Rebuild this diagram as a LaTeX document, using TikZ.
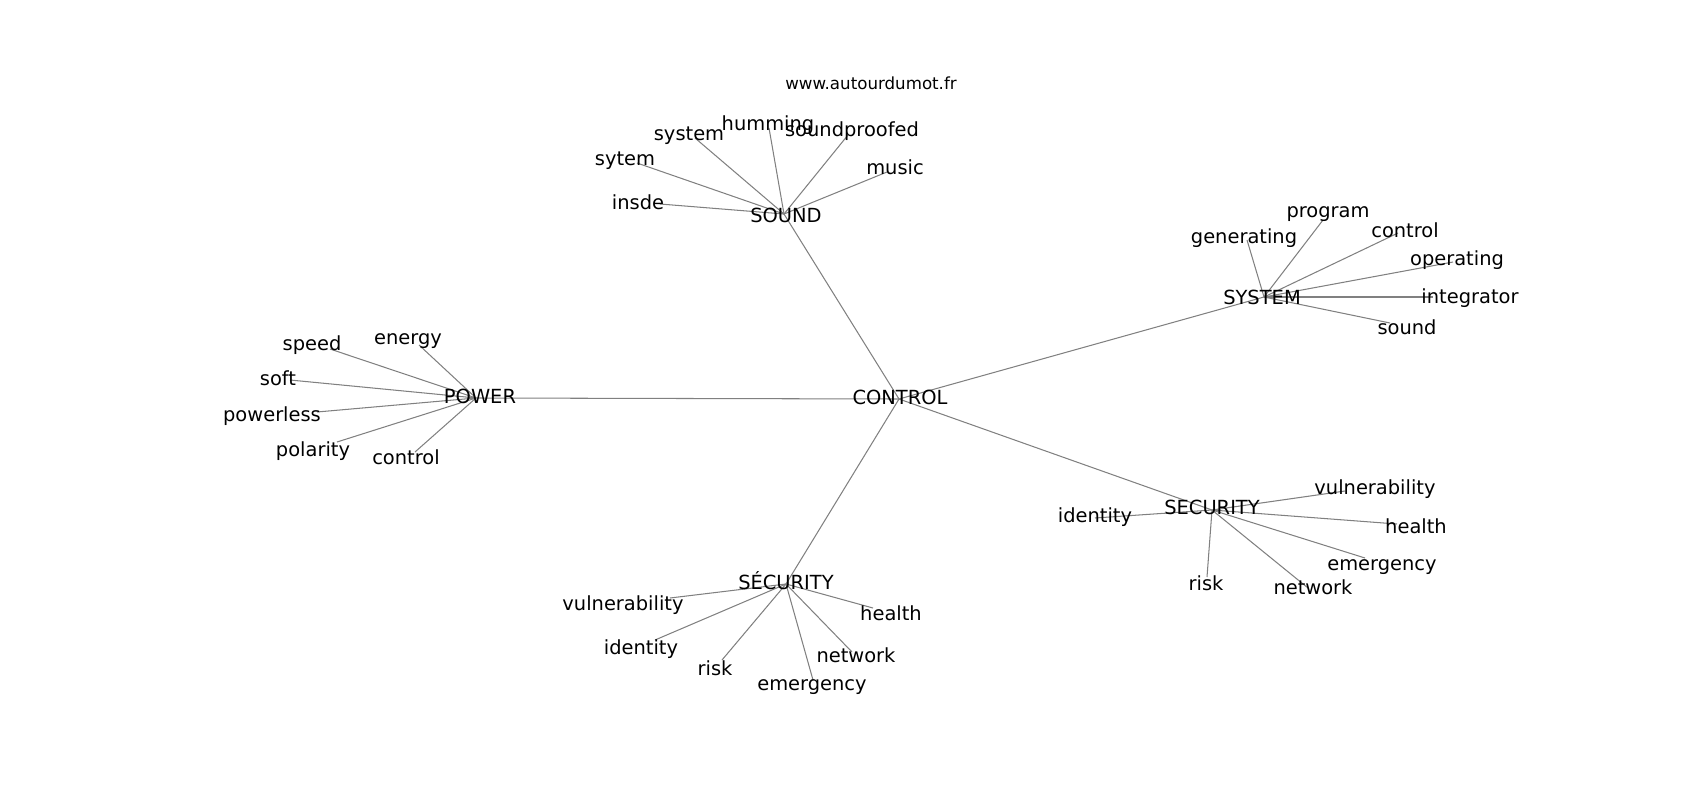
\documentclass[tikz,border=0pt]{standalone}
\usepackage{fontspec}
\setmainfont{DejaVu Sans}
\usepackage{tikz}
\tikzstyle{term}=[inner sep=0pt, text height=0.75em, text depth=0pt, yshift=-1.6pt, font=\fontsize{14}{16}\selectfont]
\tikzstyle{site}=[inner sep=0pt, text height=0.75em, text depth=0pt, yshift=-1.2pt, font=\fontsize{12}{14}\selectfont]
\tikzstyle{link}=[draw=gray, line width=0.75pt]
\begin{document}
\begin{tikzpicture}[x=0.72pt, y=-0.72pt]
\useasboundingbox (0,0) rectangle (1700,800);
\node[site] (url) at (871,83) {www.autourdumot.fr};
% hubs
\coordinate (control) at (899,399);
\coordinate (sound) at (784,214);
\coordinate (power) at (476,398);
\coordinate (system) at (1264,297);
\coordinate (security) at (1212,510);
\coordinate (securite) at (786,584);
\foreach \h in {sound,power,system,security,securite}
 \draw[link] (control) -- (\h);
% sound
\foreach \n/\txt/\lx/\ly/\ex/\ey in {so-humming/humming/768/123/769/128, so-soundproofed/soundproofed/852/129/848/135,
 so-system/system/689/133/695/138, so-sytem/sytem/625/158/637/163, so-music/music/895/167/887/172, so-insde/insde/638/202/660/204} {
 \coordinate (\n-end) at (\ex,\ey);
 \draw[link] (sound) -- (\n-end);
 \node[term] (\n) at (\lx,\ly) {\txt};
}
% power
\foreach \n/\txt/\lx/\ly/\ex/\ey in {pw-speed/speed/312/343/330/349, pw-energy/energy/408/337/419/345, pw-soft/soft/278/378/290/380,
 pw-powerless/powerless/272/414/317/412, pw-polarity/polarity/313/449/337/442, pw-control/control/406/457/415/452} {
 \coordinate (\n-end) at (\ex,\ey);
 \draw[link] (power) -- (\n-end);
 \node[term] (\n) at (\lx,\ly) {\txt};
}
% system
\foreach \n/\txt/\lx/\ly/\ex/\ey in {sy-generating/generating/1244/236/1247/240, sy-program/program/1328/210/1323/220,
 sy-control/control/1405/230/1398/233, sy-operating/operating/1457/258/1453/262, sy-integrator/integrator/1470/296/1433/297, sy-sound/sound/1407/327/1390/323} {
 \coordinate (\n-end) at (\ex,\ey);
 \draw[link] (system) -- (\n-end);
 \node[term] (\n) at (\lx,\ly) {\txt};
}
% security
\foreach \n/\txt/\lx/\ly/\ex/\ey in {se-identity/identity/1095/515/1095/518, se-vulnerability/vulnerability/1375/487/1345/491,
 se-health/health/1416/526/1397/524, se-emergency/emergency/1382/563/1365/558, se-risk/risk/1206/583/1207/577, se-network/network/1313/587/1308/588} {
 \coordinate (\n-end) at (\ex,\ey);
 \draw[link] (security) -- (\n-end);
 \node[term] (\n) at (\lx,\ly) {\txt};
}
% securite
\foreach \n/\txt/\lx/\ly/\ex/\ey in {sc-vulnerability/vulnerability/623/603/670/598, sc-identity/identity/641/647/655/640,
 sc-risk/risk/715/668/722/660, sc-emergency/emergency/812/683/813/680, sc-network/network/856/655/852/652, sc-health/health/891/613/873/608} {
 \coordinate (\n-end) at (\ex,\ey);
 \draw[link] (securite) -- (\n-end);
 \node[term] (\n) at (\lx,\ly) {\txt};
}
\node[term] (control-t) at (900,397) {CONTROL};
\node[term] (sound-t) at (786,215) {SOUND};
\node[term] (power-t) at (480,396) {POWER};
\node[term] (system-t) at (1262,297) {SYSTEM};
\node[term] (security-t) at (1212,507) {SECURITY};
\node[term] (securite-t) at (786,582) {SÉCURITY};
\end{tikzpicture}
\end{document}
